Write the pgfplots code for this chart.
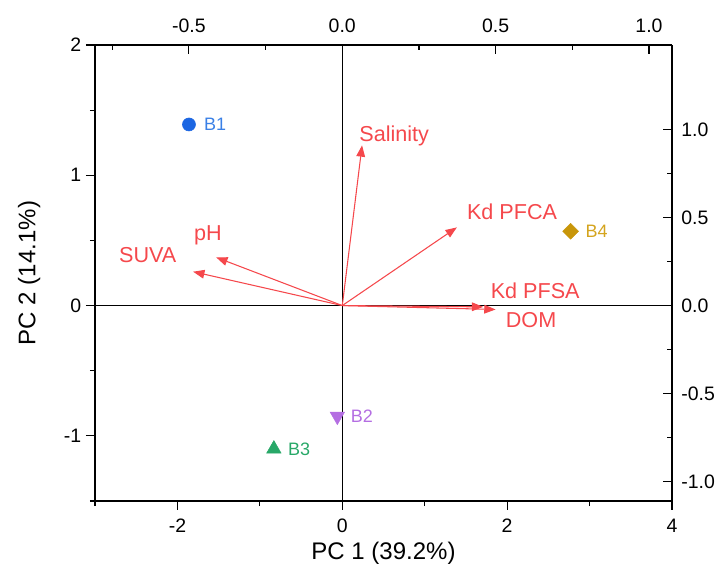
\documentclass[border=0pt]{standalone}
\usepackage{pgfplots}
\pgfplotsset{compat=1.18}
\usepackage{fontspec}
\setmainfont{Liberation Sans}
\usetikzlibrary{arrows.meta}
\definecolor{vred}{RGB}{245,72,76}
\definecolor{cb1}{RGB}{28,102,226}
\definecolor{lb1}{RGB}{58,128,230}
\definecolor{cb4}{RGB}{200,150,10}
\definecolor{lb4}{RGB}{212,164,30}
\definecolor{cb2}{RGB}{180,110,226}
\definecolor{cb3}{RGB}{40,168,104}
\pgfplotsset{
  common/.style={
    at={(0pt,0pt)}, anchor=south west,
    width=432.75pt, height=342pt, scale only axis,
    axis line style={-, line width=1.15pt, black},
    tick style={black, line width=0.9pt},
    major tick length=6.75pt, minor tick length=3.75pt,
    ticklabel style={font=\fontsize{14.6}{16}\selectfont},
    /pgf/number format/assume math mode=true,
  },
}
\tikzset{
  arr/.style={vred, line width=0.8pt, -{Triangle[length=8.5pt,width=6.5pt]}},
  vlab/.style={text=vred, font=\fontsize{16.2}{18}\selectfont},
  blab/.style={font=\fontsize{13.5}{15}\selectfont, anchor=west, inner sep=0pt},
}
\begin{document}
\begin{tikzpicture}
\path[use as bounding box] (-71.25pt,-52.5pt) rectangle (466.5pt,375.75pt);
% secondary axis (loadings scale): top / right
\begin{axis}[common,
  xmin=-0.806, xmax=1.075, ymin=-1.112, ymax=1.483,
  axis x line*=top, axis y line*=right,
  tick align=inside,
  xtick={-0.5,0,0.5,1}, minor xtick={-0.75,-0.25,0.25,0.75},
  ytick={-1,-0.5,0,0.5,1}, minor ytick={-0.75,-0.25,0.25,0.75},
  xticklabel style={yshift=5.5pt},
  yticklabel style={xshift=3.5pt},
  /pgf/number format/fixed, /pgf/number format/fixed zerofill,
  /pgf/number format/precision=1,
]
\addplot[draw=none] coordinates {(0,0)};
\end{axis}
% main axis (scores): bottom / left
\begin{axis}[common,
  xmin=-3, xmax=4, ymin=-1.5, ymax=2,
  axis x line*=bottom, axis y line*=left,
  tick align=outside,
  xtick={-2,0,2,4}, minor xtick={-3,-1,1,3},
  ytick={-1,0,1,2}, minor ytick={-1.5,-0.5,0.5,1.5},
  xticklabel style={yshift=-3pt},
  xlabel={PC 1 (39.2\%)}, ylabel={PC 2 (14.1\%)},
  label style={font=\fontsize{18}{20}\selectfont},
  xlabel style={at={(axis description cs:0.5,-0.114)}, anchor=center},
  ylabel style={at={(axis description cs:-0.114,0.5)}, anchor=center},
]
\draw[black, line width=1.1pt] (axis cs:-3,0) -- (axis cs:4,0);
\draw[black, line width=1.1pt] (axis cs:0,-1.5) -- (axis cs:0,2);
% loading arrows
\addplot[arr] coordinates {(0,0) (0.24,1.23)};
\addplot[arr] coordinates {(0,0) (1.39,0.60)};
\addplot[arr] coordinates {(0,0) (1.71,-0.01)};
\addplot[arr] coordinates {(0,0) (1.86,-0.03)};
\addplot[arr] coordinates {(0,0) (-1.81,0.26)};
\addplot[arr] coordinates {(0,0) (-1.53,0.37)};
\node[vlab] at (axis cs:0.63,1.30) {Salinity};
\node[vlab] at (axis cs:2.06,0.72) {Kd PFCA};
\node[vlab] at (axis cs:2.34,0.11) {Kd PFSA};
\node[vlab] at (axis cs:2.29,-0.115) {DOM};
\node[vlab] at (axis cs:-2.36,0.39) {SUVA};
\node[vlab] at (axis cs:-1.63,0.54) {pH};
% sample scores
\addplot[only marks, mark=*, mark size=4.9pt, color=cb1] coordinates {(-1.86,1.39)};
\addplot[only marks, mark=square*, mark size=4.2pt, mark options={rotate=45}, color=cb4] coordinates {(2.77,0.57)};
\addplot[only marks, mark=triangle*, mark size=6.2pt, mark options={rotate=180}, color=cb2] coordinates {(-0.06,-0.85)};
\addplot[only marks, mark=triangle*, mark size=6.2pt, color=cb3] coordinates {(-0.83,-1.10)};
\node[blab, text=lb1] at (axis cs:-1.68,1.39) {B1};
\node[blab, text=lb4] at (axis cs:2.95,0.57) {B4};
\node[blab, text=cb2] at (axis cs:0.10,-0.85) {B2};
\node[blab, text=cb3] at (axis cs:-0.66,-1.10) {B3};
\end{axis}
\end{tikzpicture}
\end{document}
